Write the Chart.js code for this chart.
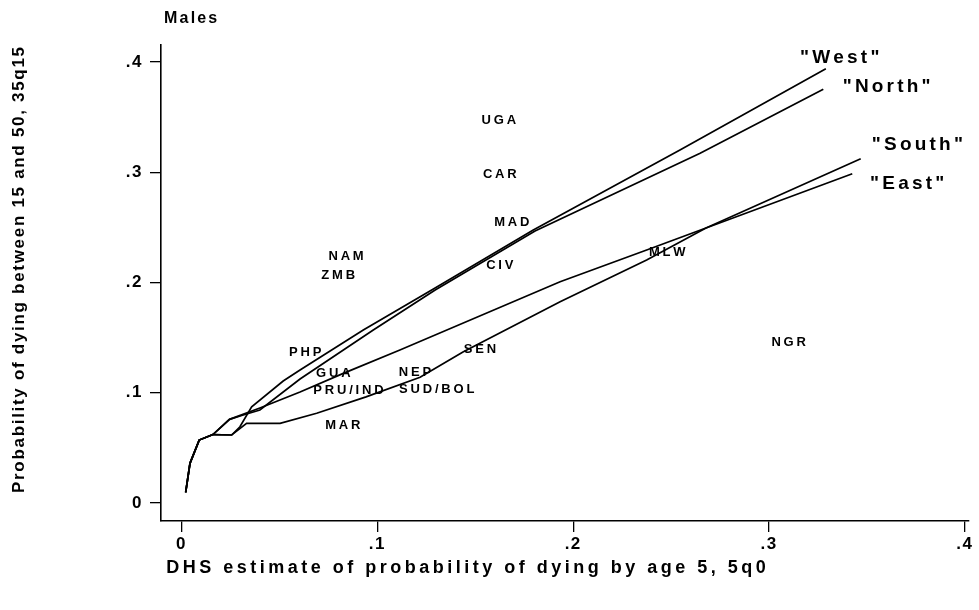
<!DOCTYPE html>
<html lang="en">
<head>
    <meta charset="UTF-8">
    <title>Males - 35q15 vs 5q0</title>
    <script src="https://cdn.jsdelivr.net/npm/chart.js"></script>
    <style>
        html, body { margin: 0; padding: 0; background: #ffffff; }
        #wrap { width: 979px; height: 610px; }
    </style>
</head>
<body>
<div id="wrap"><canvas id="chart" width="979" height="610"></canvas></div>
<script>
    // Model life table curves: 5q0 (x) against 35q15 (y)
    const westX  = [0.0021, 0.0043, 0.009, 0.016, 0.0256, 0.0298, 0.0358, 0.0519, 0.0605, 0.0928, 0.1286, 0.1796, 0.2545, 0.329];
    const westY  = [0.0097, 0.036, 0.0571, 0.0621, 0.0617, 0.0692, 0.0873, 0.1107, 0.1206, 0.1569, 0.1941, 0.2476, 0.3202, 0.3939];
    const northX = [0.0021, 0.0043, 0.009, 0.016, 0.0245, 0.0315, 0.040, 0.0605, 0.0979, 0.1295, 0.1805, 0.2648, 0.3277];
    const northY = [0.0097, 0.036, 0.0571, 0.0621, 0.0759, 0.0798, 0.0844, 0.1125, 0.1569, 0.1932, 0.2467, 0.3172, 0.3752];
    const eastX  = [0.0021, 0.0043, 0.009, 0.016, 0.0245, 0.040, 0.0605, 0.0826, 0.1115, 0.1933, 0.2375, 0.2678, 0.3425];
    const eastY  = [0.0097, 0.036, 0.0571, 0.0621, 0.0759, 0.0862, 0.1007, 0.1176, 0.1388, 0.2007, 0.2295, 0.2494, 0.2987];
    const southX = [0.0021, 0.0043, 0.009, 0.016, 0.0256, 0.0332, 0.0503, 0.069, 0.0942, 0.1218, 0.1437, 0.1933, 0.2375, 0.2678, 0.3468];
    const southY = [0.0097, 0.036, 0.0571, 0.0621, 0.0617, 0.0723, 0.0723, 0.0814, 0.0963, 0.1140, 0.1370, 0.1826, 0.2204, 0.2494, 0.3123];

    // DHS countries
    const countries = ['UGA', 'CAR', 'MAD', 'CIV', 'NAM', 'ZMB', 'MLW', 'PHP', 'GUA', 'PRU/IND', 'NEP', 'SUD/BOL', 'SEN', 'MAR', 'NGR'];
    const country5q0 = [0.1620, 0.1625, 0.1686, 0.1625, 0.084, 0.08, 0.248, 0.0631, 0.0775, 0.0852, 0.1192, 0.1303, 0.1524, 0.0823, 0.31];
    const country35q15 = [0.347, 0.2983, 0.2549, 0.2159, 0.2234, 0.2062, 0.2270, 0.1363, 0.1176, 0.1025, 0.1182, 0.1032, 0.1394, 0.0701, 0.1460];

    // curve end labels (left edge of text)
    const endNames = ['"West"', '"North"', '"South"', '"East"'];
    const endX = [0.3158, 0.3376, 0.3525, 0.3516];
    const endY = [0.4034, 0.3776, 0.3247, 0.290];

    const xTicks = [0, 0.1, 0.2, 0.3, 0.4];
    const yTicks = [0, 0.1, 0.2, 0.3, 0.4];

    const FONT = '"Liberation Sans", Arial, Helvetica, sans-serif';

    function pairs(xs, ys) {
        return xs.map((x, i) => ({ x: x, y: ys[i] }));
    }

    function tickText(v) {
        return v === 0 ? '0' : v.toFixed(1).slice(1);
    }

    // draw text with spacing between letters
    function spacedText(ctx, text, x, y, spacing, align) {
        const chars = Array.from(text);
        const widths = chars.map(c => ctx.measureText(c).width);
        const total = widths.reduce((a, b) => a + b, 0) + spacing * (chars.length - 1);
        let cx = x;
        if (align === 'center') cx = x - total / 2;
        if (align === 'right') cx = x - total;
        ctx.textAlign = 'left';
        chars.forEach((c, i) => {
            ctx.fillText(c, cx, y);
            cx += widths[i] + spacing;
        });
    }

    const textLayer = {
        id: 'textLayer',
        beforeDraw(chart) {
            chart.ctx.letterSpacing = '1.5px';
        },
        afterDatasetsDraw(chart) {
            const ctx = chart.ctx;
            const xs = chart.scales.x, ys = chart.scales.y;
            ctx.save();
            ctx.letterSpacing = '0px';
            ctx.fillStyle = '#000';
            ctx.textBaseline = 'middle';

            ctx.font = 'bold 13px ' + FONT;
            countries.forEach((name, i) => {
                spacedText(ctx, name, xs.getPixelForValue(country5q0[i]), ys.getPixelForValue(country35q15[i]), 2.8, 'center');
            });

            ctx.font = 'bold 19px ' + FONT;
            endNames.forEach((name, i) => {
                spacedText(ctx, name, xs.getPixelForValue(endX[i]), ys.getPixelForValue(endY[i]), 3.2, 'left');
            });
            ctx.restore();
        },
        afterDraw(chart) {
            const ctx = chart.ctx;
            const area = chart.chartArea;
            ctx.save();
            ctx.letterSpacing = '0px';
            ctx.fillStyle = '#000';
            ctx.textBaseline = 'middle';

            ctx.font = 'bold 16px ' + FONT;
            spacedText(ctx, 'Males', area.left + 3, 19, 2.2, 'left');

            ctx.font = 'bold 18px ' + FONT;
            spacedText(ctx, 'DHS estimate of probability of dying by age 5, 5q0', 466, 568, 3.5, 'center');

            ctx.translate(19, 270);
            ctx.rotate(-Math.PI / 2);
            ctx.font = 'bold 17px ' + FONT;
            spacedText(ctx, 'Probability of dying between 15 and 50, 35q15', 0, 0, 1.7, 'center');
            ctx.restore();
        }
    };

    function lineSet(xs, ys) {
        return {
            data: pairs(xs, ys),
            showLine: true,
            borderColor: '#000',
            borderWidth: 1.7,
            pointRadius: 0,
            tension: 0,
            fill: false
        };
    }

    const ctx = document.getElementById('chart').getContext('2d');
    new Chart(ctx, {
        type: 'scatter',
        data: {
            datasets: [
                lineSet(westX, westY),
                lineSet(northX, northY),
                lineSet(southX, southY),
                lineSet(eastX, eastY),
                { data: pairs(country5q0, country35q15), pointRadius: 0, showLine: false }
            ]
        },
        options: {
            responsive: false,
            animation: false,
            devicePixelRatio: 1,
            layout: { padding: { top: 45, right: 10, bottom: 0, left: 0 } },
            plugins: {
                legend: { display: false },
                tooltip: { enabled: false },
                title: { display: false }
            },
            scales: {
                x: {
                    type: 'linear',
                    min: -0.0105,
                    max: 0.4021,
                    afterBuildTicks: s => { s.ticks = xTicks.map(v => ({ value: v })); },
                    afterFit: s => { s.height = 89; s.paddingLeft = 0; s.paddingRight = 0; },
                    ticks: {
                        callback: tickText,
                        color: '#000',
                        font: { family: FONT, size: 17, weight: 'bold' },
                        padding: 2,
                        maxRotation: 0,
                        autoSkip: false
                    },
                    grid: { drawOnChartArea: false, drawTicks: true, tickLength: 11, color: '#000', lineWidth: 1.3 },
                    border: { display: true, color: '#000', width: 1.6 }
                },
                y: {
                    type: 'linear',
                    min: -0.0163,
                    max: 0.4154,
                    afterBuildTicks: s => { s.ticks = yTicks.map(v => ({ value: v })); },
                    afterFit: s => { s.width = 161; s.paddingTop = 0; s.paddingBottom = 0; },
                    ticks: {
                        callback: tickText,
                        color: '#000',
                        font: { family: FONT, size: 17, weight: 'bold' },
                        padding: 7,
                        autoSkip: false
                    },
                    grid: { drawOnChartArea: false, drawTicks: true, tickLength: 11, color: '#000', lineWidth: 1.3 },
                    border: { display: true, color: '#000', width: 1.6 }
                }
            }
        },
        plugins: [textLayer]
    });
</script>
</body>
</html>
